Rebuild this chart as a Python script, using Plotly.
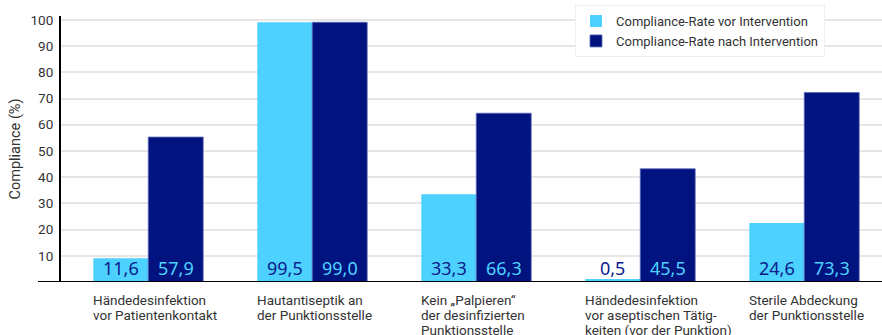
import plotly.graph_objects as go

# ---------------- data ----------------
category_lines = [
    ["Händedesinfektion", "vor Patientenkontakt"],
    ["Hautantiseptik an", "der Punktionsstelle"],
    ["Kein „Palpieren“", "der desinfizierten", "Punktionsstelle"],
    ["Händedesinfektion", "vor aseptischen Tätig-", "keiten (vor der Punktion)"],
    ["Sterile Abdeckung", "der Punktionsstelle"],
]
categories = [" ".join(lines) for lines in category_lines]

series_names = ["Compliance-Rate vor Intervention", "Compliance-Rate nach Intervention"]
# bar heights as drawn in the picture
bar_vor = [9.1, 99.1, 33.5, 1.1, 22.5]
bar_nach = [55.3, 99.1, 64.4, 43.2, 72.3]
# printed value labels
label_vor = [11.6, 99.5, 33.3, 0.5, 24.6]
label_nach = [57.9, 99.0, 66.3, 45.5, 73.3]

y_ticks = [10, 20, 30, 40, 50, 60, 70, 80, 90, 100]

# ---------------- style ----------------
W, H = 882, 335
ML, MR, MT, MB = 61, 0, 16, 53
X_RANGE = [-0.532, 4.474]
Y_RANGE = [0, 101.5]
BARGAP = 0.33
C_LIGHT = "#4dd1fe"
C_DARK = "#00137f"
T_ON_LIGHT = "#0b1c8c"
T_ON_DARK = "#4dd2ff"
FONT = "Roboto"

plot_w = W - ML - MR
cat_px = plot_w / (X_RANGE[1] - X_RANGE[0])
bar_px = cat_px * (1 - BARGAP) / 2

fig = go.Figure()
fig.add_trace(go.Bar(x=categories, y=bar_vor, name=series_names[0],
                     marker=dict(color=C_LIGHT, line=dict(width=0))))
fig.add_trace(go.Bar(x=categories, y=bar_nach, name=series_names[1],
                     marker=dict(color=C_DARK, line=dict(width=0.8, color="#5a68b8"))))

fmt = lambda v: f"{v:.1f}".replace(".", ",")

annotations = []
for i, cat in enumerate(categories):
    for vals, shift, col in ((label_vor, -bar_px / 2, T_ON_LIGHT),
                             (label_nach, bar_px / 2, T_ON_DARK)):
        annotations.append(dict(
            x=cat, y=0, xref="x", yref="y", text=fmt(vals[i]),
            showarrow=False, xanchor="center", yanchor="bottom",
            xshift=shift, yshift=0,
            font=dict(family="Noto Sans", size=18, color=col)))
    for j, line in enumerate(category_lines[i]):
        annotations.append(dict(
            x=cat, y=0, xref="x", yref="paper", text=line,
            showarrow=False, xanchor="left", yanchor="middle", align="left",
            xshift=-bar_px - 2, yshift=-18 - 15 * j,
            font=dict(family=FONT, size=13.5, color="#333333")))

fig.update_layout(
    width=W, height=H,
    margin=dict(l=ML, r=MR, t=MT, b=MB, autoexpand=False),
    paper_bgcolor="white", plot_bgcolor="white",
    barmode="group", bargap=BARGAP, bargroupgap=0,
    font=dict(family=FONT, size=13, color="#333333"),
    showlegend=True,
    legend=dict(x=(575 - ML) / plot_w, y=1.041, xanchor="left", yanchor="top",
                bgcolor="white", bordercolor="#eeeeee", borderwidth=1,
                font=dict(family=FONT, size=13, color="#333333"),
                traceorder="normal"),
    annotations=annotations,
    shapes=[dict(type="line", xref="paper", yref="y", x0=(38 - ML) / plot_w, x1=1,
                 y0=0, y1=0, line=dict(color="black", width=2), layer="above")],
)
fig.update_xaxes(type="category", range=X_RANGE, showticklabels=False, showgrid=False,
                 zeroline=False, showline=False, ticks="", fixedrange=True)
fig.update_yaxes(range=Y_RANGE, tickvals=y_ticks, showgrid=True, gridcolor="#e6e6e6",
                 gridwidth=1.5, zeroline=False, showline=True, linecolor="black",
                 linewidth=2, ticks="", ticklabelstandoff=3,
                 tickfont=dict(family=FONT, size=13.5, color="#333333"),
                 title=dict(text="Compliance (%)", standoff=6,
                            font=dict(family=FONT, size=14.5, color="#333333")))

fig.write_html("out.html")
